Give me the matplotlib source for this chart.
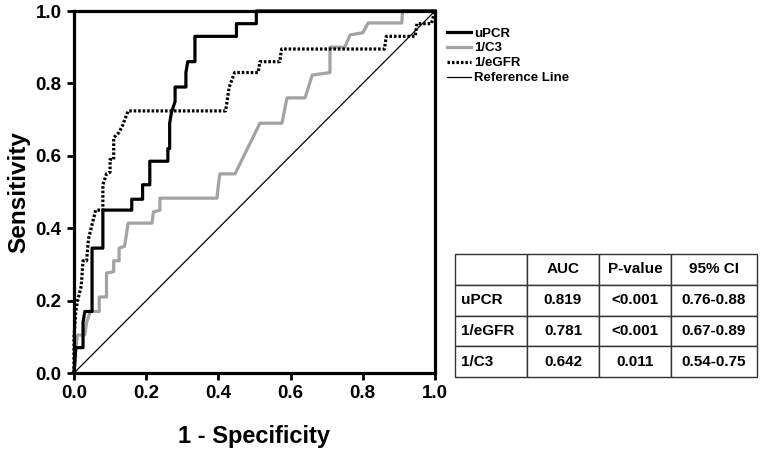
import matplotlib
matplotlib.use("Agg")
import matplotlib.pyplot as plt
from matplotlib.lines import Line2D

plt.rcParams['font.family'] = ['Liberation Sans', 'DejaVu Sans']

# ROC points (1 - specificity, sensitivity)
upcr_fpr = [0, 0.005, 0.025, 0.025, 0.03, 0.05, 0.05, 0.08, 0.08, 0.16, 0.16, 0.19, 0.19, 0.21,
            0.21, 0.26, 0.26, 0.265, 0.265, 0.27, 0.28, 0.28, 0.31, 0.31, 0.315, 0.335, 0.335,
            0.45, 0.45, 0.505, 0.505, 1.0]
upcr_tpr = [0, 0.07, 0.07, 0.14, 0.17, 0.17, 0.345, 0.345, 0.45, 0.45, 0.48, 0.48, 0.52, 0.52,
            0.585, 0.585, 0.62, 0.62, 0.69, 0.72, 0.75, 0.79, 0.79, 0.83, 0.86, 0.86, 0.93,
            0.93, 0.965, 0.965, 1.0, 1.0]

c3_fpr = [0, 0.005, 0.01, 0.03, 0.035, 0.045, 0.07, 0.07, 0.09, 0.09, 0.11, 0.11, 0.125, 0.125,
          0.14, 0.15, 0.216, 0.22, 0.238, 0.238, 0.396, 0.4, 0.404, 0.446, 0.515, 0.576, 0.59,
          0.64, 0.66, 0.709, 0.709, 0.75, 0.765, 0.8, 0.815, 0.908, 0.91, 1.0]
c3_tpr = [0, 0.07, 0.105, 0.105, 0.14, 0.17, 0.17, 0.21, 0.21, 0.276, 0.28, 0.31, 0.31, 0.345,
          0.35, 0.414, 0.414, 0.445, 0.45, 0.483, 0.483, 0.52, 0.55, 0.55, 0.69, 0.69, 0.76,
          0.76, 0.823, 0.83, 0.9, 0.9, 0.934, 0.94, 0.967, 0.967, 1.0, 1.0]

egfr_fpr = [0, 0, 0.005, 0.01, 0.02, 0.025, 0.035, 0.04, 0.05, 0.06, 0.08, 0.08, 0.09, 0.10,
            0.10, 0.11, 0.11, 0.125, 0.135, 0.15, 0.42, 0.43, 0.445, 0.51, 0.515, 0.57, 0.575,
            0.86, 0.865, 0.945, 0.95, 0.99, 1.0]
egfr_tpr = [0, 0.10, 0.17, 0.20, 0.24, 0.31, 0.31, 0.37, 0.41, 0.45, 0.45, 0.52, 0.55, 0.555,
            0.59, 0.59, 0.65, 0.665, 0.685, 0.724, 0.724, 0.79, 0.83, 0.83, 0.86, 0.86, 0.895,
            0.895, 0.93, 0.93, 0.965, 0.965, 1.0]

ticks = [0.0, 0.2, 0.4, 0.6, 0.8, 1.0]

# AUC table
col_labels = ['', 'AUC', 'P-value', '95% CI']
row_names = ['uPCR', '1/eGFR', '1/C3']
auc = ['0.819', '0.781', '0.642']
pvals = ['<0.001', '<0.001', '0.011']
ci = ['0.76-0.88', '0.67-0.89', '0.54-0.75']

fig = plt.figure(figsize=(7.68, 4.5), dpi=100)
ax = fig.add_axes([74 / 768, 77 / 450, 361 / 768, 362 / 450])

gray = '#a3a3a3'
ax.plot([0, 1], [0, 1], color='black', lw=0.9, zorder=1)
ax.plot(c3_fpr, c3_tpr, color=gray, lw=2.3, zorder=2, clip_on=False)
ax.plot(egfr_fpr, egfr_tpr, color='black', lw=2.3, linestyle=(0, (0.8, 0.6)), zorder=3, clip_on=False)
ax.plot(upcr_fpr, upcr_tpr, color='black', lw=2.3, zorder=4, clip_on=False)

ax.set_xlim(0, 1)
ax.set_ylim(0, 1)
ax.set_xticks(ticks)
ax.set_yticks(ticks)
ax.set_xticklabels([f'{t:.1f}' for t in ticks])
ax.set_yticklabels([f'{t:.1f}' for t in ticks])
for s in ax.spines.values():
    s.set_linewidth(2.3)
ax.tick_params(direction='out', length=5, width=2, labelsize=13.5, pad=4)
for lab in ax.get_xticklabels() + ax.get_yticklabels():
    lab.set_fontweight('bold')
ax.set_xlabel('1 - Specificity', fontsize=17, fontweight='bold', labelpad=16)
ax.set_ylabel('Sensitivity', fontsize=17.5, fontweight='bold', labelpad=4)

# legend
handles = [Line2D([], [], color='black', lw=2.3),
           Line2D([], [], color=gray, lw=2.3),
           Line2D([], [], color='black', lw=2.3, linestyle=(0, (0.8, 0.6))),
           Line2D([], [], color='black', lw=0.9)]
leg = fig.legend(handles, ['uPCR', '1/C3', '1/eGFR', 'Reference Line'],
                 loc='upper left', bbox_to_anchor=(442 / 768, 1 - 22 / 450),
                 frameon=False, handlelength=1.8, handletextpad=0.2,
                 labelspacing=0.2, borderaxespad=0,
                 prop={'weight': 'bold', 'size': 9.5, 'stretch': 'condensed'})

# AUC table
tax = fig.add_axes([455 / 768, 73 / 450, 302 / 768, 123 / 450])
tax.axis('off')
cells = [[row_names[i], auc[i], pvals[i], ci[i]] for i in range(len(row_names))]
tbl = tax.table(cellText=cells, colLabels=col_labels, cellLoc='center',
                bbox=[0, 0, 1, 1], colWidths=[72, 72, 72, 86])
tbl.auto_set_font_size(False)
for (r, c), cell in tbl.get_celld().items():
    cell.set_edgecolor('#333333')
    cell.set_linewidth(1.0)
    cell.get_text().set_fontsize(11)
    cell.get_text().set_fontweight('bold')
    if c == 0 and r > 0:
        cell.get_text().set_ha('left')
        cell.PAD = 0.08

fig.savefig('out.png', dpi=100)
